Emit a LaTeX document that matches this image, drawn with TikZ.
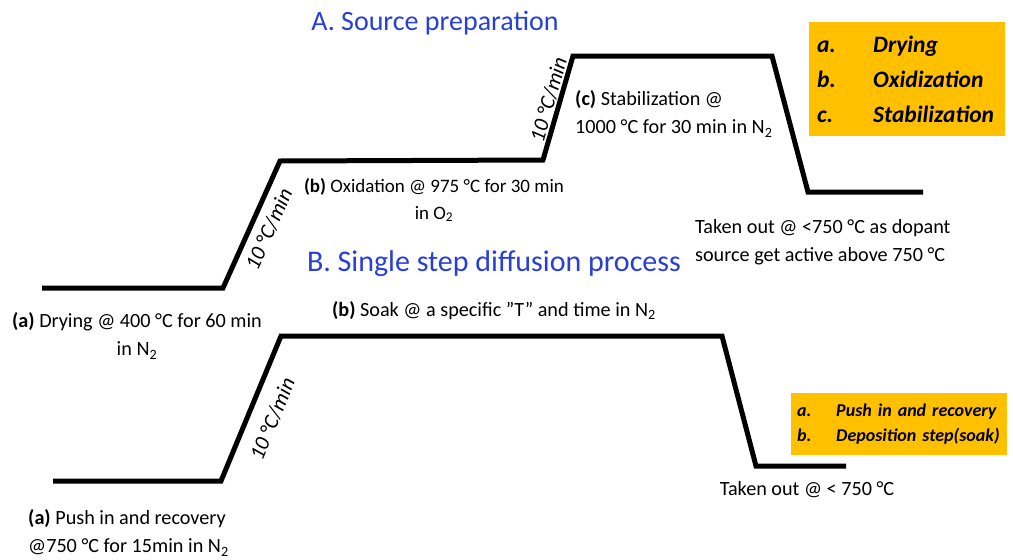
\documentclass[tikz,border=0pt]{standalone}
\usepackage{fontspec}
\setmainfont{Carlito}
\usetikzlibrary{positioning}
\definecolor{legendgold}{HTML}{FFC000}
\definecolor{titleblue}{RGB}{40,62,218}

\begin{document}
\begin{tikzpicture}[x=1pt,y=-1pt,
    profile/.style={line width=5pt,line join=miter},
    rate/.style={sloped,inner sep=0pt,font=\fontsize{21.5}{24}\selectfont\itshape},
    lbl/.style={inner sep=0pt,font=\fontsize{20.2}{28}\selectfont},
    heading/.style={inner sep=0pt,text=titleblue},
    legend/.style={fill=legendgold,anchor=north west,align=left,inner ysep=0pt}]
    \useasboundingbox (0,0) rectangle (1013,560);

    % A. source preparation profile
    \coordinate (a0) at (42,288);
    \coordinate (a1) at (223,288);
    \coordinate (a2) at (280,161);
    \coordinate (a3) at (543,160);
    \coordinate (a4) at (573,56);
    \coordinate (a5) at (772,56);
    \coordinate (a6) at (808,192);
    \coordinate (a7) at (923,192);
    \draw[profile] (a0) -- (a1)
        -- node[rate,below=7.5pt,pos=0.52] {10 °C/min} (a2) -- (a3)
        -- node[rate,above=1pt,pos=0.55] {10 °C/min} (a4) -- (a5) -- (a6) -- (a7);

    % B. single step diffusion profile
    \coordinate (b0) at (53,481);
    \coordinate (b1) at (221,481);
    \coordinate (b2) at (281,336);
    \coordinate (b3) at (722,336);
    \coordinate (b4) at (756,466);
    \coordinate (b5) at (846,466);
    \draw[profile] (b0) -- (b1)
        -- node[rate,below=13.5pt,pos=0.49] {10 °C/min} (b2) -- (b3) -- (b4) -- (b5);

    \node[heading,font=\fontsize{28}{32}\selectfont] (titleA) at (435,23) {A. Source preparation};
    \node[heading,font=\fontsize{30}{34}\selectfont] (titleB) at (494,264) {B. Single step diffusion process};

    \node[lbl,align=center] (dry) at (137,336) {\textbf{(a)} Drying @ 400 °C for 60 min\\in N\textsubscript{2}};
    \node[lbl,align=center,font=\fontsize{19}{27}\selectfont] (oxi) at (434,200) {\textbf{(b)} Oxidation @ 975 °C for 30 min\\in O\textsubscript{2}};
    \node[lbl,align=left,anchor=west] (stab) at (575,114) {\textbf{(c)} Stabilization @\\1000 °C for 30 min in N\textsubscript{2}};
    \node[lbl,align=left,anchor=west] (outA) at (695,242) {Taken out @ <750 °C as dopant\\source get active above 750 °C};

    \node[lbl] (soak) at (494,311) {\textbf{(b)} Soak @ a specific ''T'' and time in N\textsubscript{2}};
    \node[lbl,align=left,anchor=west] (push) at (28,533) {\textbf{(a)} Push in and recovery\\@750 °C for 15min in N\textsubscript{2}};
    \node[lbl] (outB) at (807,490) {Taken out @ < 750 °C};

    % legends
    \node[legend,text width=180pt,minimum height=114pt,inner xsep=8pt,
          font=\fontsize{23.5}{35}\selectfont\bfseries\itshape] (keyA) at (809,22)
        {\makebox[56pt][l]{a.}Drying\\\makebox[56pt][l]{b.}Oxidization\\\makebox[56pt][l]{c.}Stabilization};
    \node[legend,text width=204pt,minimum height=62pt,inner xsep=6pt,
          font=\fontsize{18}{25}\selectfont\bfseries\itshape] (keyB) at (791,393)
        {\makebox[39pt][l]{a.}Push in and recovery\\\makebox[39pt][l]{b.}Deposition step(soak)};
\end{tikzpicture}
\end{document}
